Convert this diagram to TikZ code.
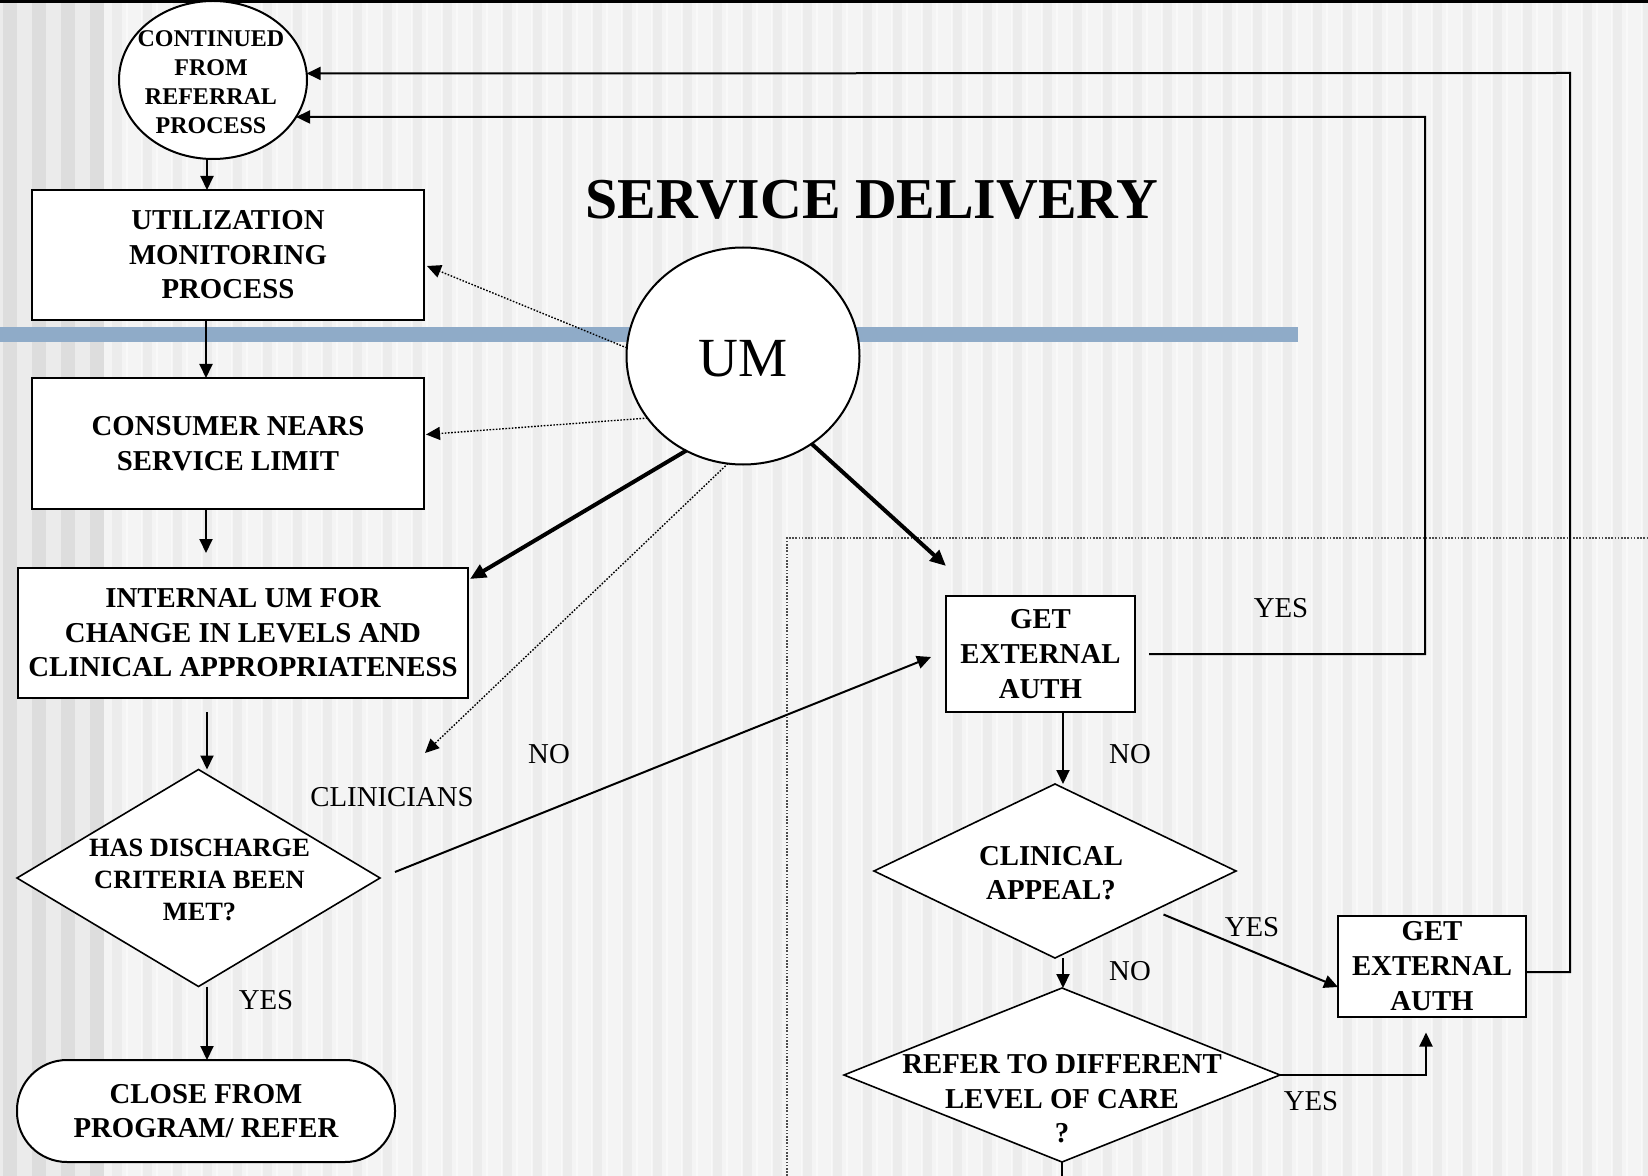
\documentclass[tikz,border=0pt]{standalone}
\usepackage{fontspec}
\setmainfont{Liberation Serif}
\usetikzlibrary{shapes.geometric,arrows.meta,calc}
\definecolor{bgbase}{HTML}{F4F4F4}
\definecolor{bgstripe}{HTML}{ECECEC}
\definecolor{leftdark}{HTML}{DDDDDD}
\definecolor{leftlight}{HTML}{EBEBEB}
\definecolor{bandblue}{HTML}{8FABC8}
\begin{document}
\begin{tikzpicture}[x=0.5pt,y=-0.5pt,
  boxtxt/.style={font=\bfseries\fontsize{14.4}{17.3}\selectfont},
  box/.style={draw, fill=white, line width=1pt, inner sep=2pt, outer sep=0pt, align=center, boxtxt},
  dia/.style={diamond, draw, fill=white, line width=0.8pt, inner sep=0pt, outer sep=0pt},
  oval/.style={ellipse, draw, fill=white, line width=1pt, inner sep=0pt, outer sep=0pt},
  lbl/.style={font=\fontsize{14.4}{17.3}\selectfont, inner sep=0pt},
  titletxt/.style={font=\bfseries\fontsize{28.9}{32}\selectfont, inner sep=0pt},
  arr/.style={line width=1pt, -{Triangle[length=7pt,width=6.5pt]}},
  thickarr/.style={line width=2pt, -{Triangle[length=8pt,width=7pt]}},
  dotarr/.style={line width=0.7pt, dash pattern=on 0.8pt off 0.8pt, -{Triangle[length=7pt,width=6.5pt]}},
  plainline/.style={line width=1pt},
]
\useasboundingbox (0,0) rectangle (1648,1176);
% background
\fill[bgbase] (0,0) rectangle (1648,1176);
\fill[leftlight] (0,0) rectangle (104,1176);
\foreach \i in {0,1,2,3} \fill[leftdark] ({3+29*\i},0) rectangle ({17+29*\i},1176);
\foreach \x in {112,142,...,1642} \fill[bgstripe] (\x,0) rectangle (\x+10,1176);
\foreach \x in {126,141,...,1646} \fill[white, opacity=0.5] (\x,0) rectangle (\x+1.5,1176);
\fill[bandblue] (0,327) rectangle (1298,342);
\draw[line width=1.5pt] (0,1.5) -- (1648,1.5);
\draw[black!70, line width=0.6pt, dash pattern=on 0.8pt off 0.8pt] (787,1176) -- (787,538) -- (1648,538);

% nodes
\node[titletxt] (title) at (872,200) {SERVICE DELIVERY};
\node[oval, minimum width=94pt, minimum height=79pt,
  label={[align=center, inner sep=0pt, font=\bfseries\fontsize{12}{14.4}\selectfont, xshift=-1pt, yshift=-1pt]center:{CONTINUED\\FROM\\REFERRAL\\PROCESS}}] (cont) at (213,80) {};
\node[box, minimum width=196pt, minimum height=65pt] (util) at (228,255) {UTILIZATION\\MONITORING\\PROCESS};
\node[box, minimum width=196pt, minimum height=65.5pt] (consumer) at (228,443.5) {CONSUMER NEARS\\SERVICE LIMIT};
\node[box, minimum width=225pt, minimum height=65pt] (internal) at (243,633) {INTERNAL UM FOR\\CHANGE IN LEVELS AND\\CLINICAL APPROPRIATENESS};
\node[dia, minimum width=181.5pt, minimum height=108.5pt,
  label={[align=center, inner sep=0pt, font=\bfseries\fontsize{13.2}{15.8}\selectfont, xshift=0.5pt, yshift=-1pt]center:{HAS DISCHARGE\\CRITERIA BEEN\\MET?}}] (has) at (198.5,878) {};
\node[box, rounded corners=25pt, minimum width=189pt, minimum height=51pt] (close) at (206,1111) {CLOSE FROM\\PROGRAM/ REFER};
\node[oval, minimum width=116.5pt, minimum height=108.5pt,
  label={[inner sep=0pt, font=\fontsize{27.6}{30}\selectfont, yshift=-1.5pt]center:{UM}}] (um) at (743,356) {};
\node[box, minimum width=94.5pt, minimum height=58pt] (ext1) at (1040.5,654) {GET\\EXTERNAL\\AUTH};
\node[box, minimum width=94pt, minimum height=50.5pt] (ext2) at (1432,966) {GET\\EXTERNAL\\AUTH};
\node[dia, minimum width=181pt, minimum height=87pt,
  label={[align=center, inner sep=0pt, boxtxt, xshift=-2pt, yshift=-1pt]center:{CLINICAL\\APPEAL?}}] (appeal) at (1055,871) {};
\node[dia, minimum width=218pt, minimum height=87pt,
  label={[align=center, inner sep=0pt, boxtxt, yshift=-12pt]center:{REFER TO DIFFERENT\\LEVEL OF CARE\\?}}] (refer) at (1062,1075) {};

\node[lbl] (yes1) at (1281,608) {YES};
\node[lbl] (no1) at (1130,754) {NO};
\node[lbl] (no0) at (549,754) {NO};
\node[lbl] (clin) at (392,797) {CLINICIANS};
\node[lbl] (yes0) at (266,1000) {YES};
\node[lbl] (no2) at (1130,971) {NO};
\node[lbl] (yes2) at (1252,927) {YES};
\node[lbl] (yes3) at (1311,1101) {YES};

\coordinate (clintip) at (425,753);
\coordinate (e2b) at ($(ext2.south)+(-6,16)$);

% connectors
\draw[arr] (207,0 |- cont.south) -- (207,0 |- util.north);
\draw[arr] (206,0 |- util.south) -- (206,0 |- consumer.north);
\draw[arr] (206,0 |- consumer.south) -- ($(206,0 |- internal.north)+(0,-15)$);
\draw[arr] ($(207,0 |- internal.south)+(0,14)$) -- (207,0 |- has.north);
\draw[arr] (207,0 |- has.south) -- (207,0 |- close.north);
\draw[dotarr] (um.176) -- ($(util.east)+(3,11)$);
\draw[dotarr] (um.213) -- ($(consumer.east)+(2,-9)$);
\draw[thickarr] (um.239) -- ($(internal.north east)+(2,11)$);
\draw[dotarr] (um.262) -- (clintip);
\draw[thickarr] (um.308) -- ($(ext1.north west)+(0,-30)$);
\draw[arr] ($(has.east)+(15,-6)$) -- ($(ext1.west)+(-15,3)$);
\draw[arr] (1063,0 |- ext1.south) -- (1063,0 |- appeal.north);
\draw[arr] ($(ext1.east)+(14,0)$) -| (1425,117) -- (cont.-24);
\draw[arr] ($(ext2.east)+(0,6)$) -| (1570,73) -- (cont.4.3);
\draw[arr] (1063,0 |- appeal.south) -- (1063,0 |- refer.north);
\draw[arr] ($(appeal.south east)+(18,0)$) -- ($(ext2.west)+(0,21)$);
\draw[arr] (refer.east) -| (e2b);
\draw[plainline] (refer.south) -- ++(0,20);
\end{tikzpicture}
\end{document}
